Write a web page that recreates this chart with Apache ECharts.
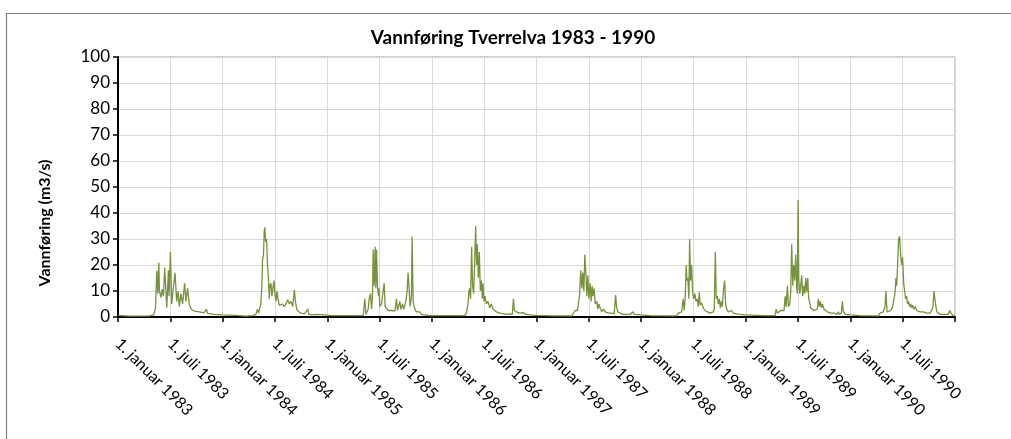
<!DOCTYPE html>
<html><head><meta charset="utf-8">
<script src="https://cdn.jsdelivr.net/npm/echarts@6/dist/echarts.min.js"></script>
<style>html,body{margin:0;padding:0;background:#fff}#c{width:1011px;height:439px}</style>
</head><body><div id="c"></div>
<script>
// Each pair: [month within the year (0 = 1. januar, 6 = 1. juli), flow in m3/s]
const flow1983 = [[0,0.6],[1.3,0.3],[3.6,0.4],[3.8,0.8],[4.1,0.8],[4.3,3.6],[4.45,17.8],[4.56,9],[4.68,21],[4.75,10],[4.94,7.5],[5.06,10.7],[5.21,8],[5.36,19],[5.48,18.5],[5.59,3.6],[5.7,11.3],[5.78,18],[5.86,8],[6.01,25],[6.16,5],[6.31,10],[6.54,17],[6.73,6],[6.88,10],[7.03,4],[7.22,9],[7.41,5],[7.64,13],[7.79,6],[7.98,11],[8.17,5],[8.4,3],[8.75,2.3],[9.32,2],[9.89,1.7],[10.08,1.5],[10.15,3],[10.27,1.4],[11.03,1],[11.98,0.8]];
const flow1984 = [[0.2,0.6],[1.5,0.6],[2.65,0.3],[3.42,0.5],[3.62,0.8],[3.81,1],[4.0,3],[4.12,1.5],[4.38,5],[4.5,12],[4.58,22],[4.69,24],[4.77,33],[4.85,34.5],[4.92,29],[5.04,30],[5.15,20],[5.27,14],[5.35,7],[5.42,12],[5.54,13],[5.65,8],[5.77,11],[5.88,14],[6.0,9],[6.12,6],[6.23,10],[6.35,7],[6.5,4.5],[6.69,4],[6.88,5],[7.08,4],[7.27,5],[7.46,6.6],[7.65,5],[7.85,6],[8.04,4],[8.23,10.5],[8.35,6],[8.5,3],[8.73,2],[9.0,1.5],[9.38,1.2],[9.58,1],[9.77,3],[9.88,1],[10.35,0.8],[10.73,1],[11.88,0.8]];
const flow1985 = [[0.3,0.5],[4.12,0.5],[4.24,1],[4.31,7],[4.43,1],[4.69,3],[4.81,7],[4.96,9],[5.08,3],[5.19,8],[5.27,26],[5.38,12],[5.5,27],[5.57,11],[5.65,26],[5.76,12],[5.88,8],[5.95,11],[6.03,4],[6.22,5],[6.41,4.5],[6.53,13],[6.64,4],[6.79,3.5],[6.98,2.5],[7.18,3],[7.37,2.5],[7.56,3],[7.75,2.3],[7.94,7],[8.05,2.5],[8.32,6],[8.44,3],[8.63,5],[8.78,3],[9.01,6],[9.16,10],[9.27,17],[9.39,11],[9.5,4],[9.66,8],[9.73,31],[9.85,6],[10.04,3],[10.23,2],[10.42,1.5],[10.61,2],[10.8,1],[11.18,0.8],[11.76,0.5]];
const flow1986 = [[0.88,0.5],[3.75,0.5],[3.95,1.5],[4.14,5],[4.25,10],[4.33,11],[4.44,7],[4.56,27],[4.67,12],[4.79,9],[4.9,20],[5.02,35],[5.13,20],[5.21,28],[5.33,15],[5.44,25],[5.56,10],[5.67,14],[5.79,7],[5.86,13],[5.98,6],[6.09,8],[6.25,5],[6.44,6],[6.63,3.5],[6.82,5],[7.01,3],[7.2,3.5],[7.39,2],[7.78,1.5],[8.54,1],[8.93,1.2],[9.23,1],[9.35,7],[9.46,2.5],[9.69,2],[10.08,1.5],[10.46,1.7],[10.84,1],[11.23,0.8],[11.99,0.6]];
const flow1987 = [[0,0.5],[2,0.4],[4.05,0.4],[4.24,1],[4.43,2.5],[4.54,3],[4.7,2.5],[4.93,8],[5.08,18],[5.2,11],[5.31,17],[5.43,10],[5.54,24],[5.66,17],[5.77,8],[5.89,16],[6.0,7],[6.15,13],[6.27,6],[6.38,12],[6.46,8],[6.61,11],[6.73,5],[6.92,6],[7.03,3],[7.15,5],[7.3,3.5],[7.49,2],[7.69,3],[7.88,2],[8.07,2.5],[8.26,1.5],[8.64,1.5],[8.91,1.2],[9.07,8.5],[9.18,4],[9.33,2],[9.6,1.5],[9.98,1],[10.74,1],[11.06,2],[11.21,1],[11.9,0.8]];
const flow1988 = [[1.0,0.5],[4.06,0.4],[4.25,1.5],[4.64,2],[4.83,7],[4.94,2.5],[5.06,7.5],[5.17,20],[5.25,14],[5.36,15],[5.48,7],[5.56,30],[5.67,14],[5.79,20],[5.9,10],[6.02,7],[6.17,9],[6.28,6],[6.44,7],[6.55,4],[6.67,9.5],[6.78,4.5],[6.93,5.5],[7.13,3.5],[7.32,2.5],[7.51,2],[7.89,1.5],[8.28,2],[8.39,3],[8.51,25],[8.62,7],[8.74,8],[8.85,5],[8.97,7],[9.08,3.5],[9.2,6],[9.31,4],[9.46,11],[9.58,14],[9.69,5],[9.81,3],[10.0,2],[10.19,1.5],[10.38,2.5],[10.57,1.5],[10.96,1.2],[11.34,1],[11.92,0.8]];
const flow1989 = [[0,0.8],[2,0.5],[3.37,0.5],[3.48,3],[3.63,1.5],[3.82,1.5],[4.02,2.5],[4.21,2],[4.4,2.5],[4.51,8],[4.63,4],[4.78,12],[4.89,4],[5.05,5],[5.16,10],[5.27,28],[5.39,12],[5.5,20],[5.62,14],[5.73,24],[5.85,11],[5.92,9],[6.0,45],[6.08,15],[6.19,9],[6.31,12],[6.42,16],[6.53,8],[6.65,12],[6.76,9],[6.88,15],[6.99,9.5],[7.11,15],[7.22,7],[7.34,5.5],[7.45,3.5],[7.64,3],[7.83,2.5],[8.02,3],[8.21,3],[8.33,7],[8.44,4],[8.56,6],[8.67,3.5],[8.79,5],[8.98,3],[9.17,2.5],[9.36,2],[9.74,1.5],[10.12,1.5],[10.43,1],[10.62,2],[10.73,1],[10.96,1.5],[11.08,6],[11.19,2],[11.46,1],[11.95,0.8]];
const flow1990 = [[1.1,0.5],[3.21,0.4],[3.4,1.5],[3.59,1.5],[3.78,2],[3.97,4],[4.08,10],[4.2,2],[4.39,2],[4.62,2.5],[4.85,4],[5.0,7],[5.11,9],[5.23,15],[5.31,12],[5.42,20],[5.53,30],[5.65,31],[5.76,24],[5.88,20],[5.99,23],[6.11,13],[6.22,10],[6.34,7],[6.45,8],[6.56,5],[6.68,6],[6.79,4],[6.91,5],[7.02,3.5],[7.14,4.5],[7.29,3],[7.44,4],[7.6,2.5],[7.79,3],[7.98,2],[8.36,2],[8.74,1.5],[9.12,1.5],[9.31,2.5],[9.47,4],[9.58,10],[9.69,10.5],[9.81,4],[9.92,2],[10.27,1],[10.84,1],[11.22,1],[11.41,2.5],[11.53,1.5],[11.79,0.5],[12,0.4]];

const years = [1983, 1984, 1985, 1986, 1987, 1988, 1989, 1990];
const yearFlows = [flow1983, flow1984, flow1985, flow1986, flow1987, flow1988, flow1989, flow1990];
const monthNames = ['januar', 'juli'];
const yTicks = [0, 10, 20, 30, 40, 50, 60, 70, 80, 90, 100];
const chartTitle = 'Vannføring Tverrelva 1983 - 1990';
const yTitle = 'Vannføring (m3/s)';

const startYear = years[0];
const seriesData = [];
years.forEach((y, i) => {
  yearFlows[i].forEach(p => seriesData.push([(y - startYear) * 12 + p[0], p[1]]));
});

const FONT = 'Lato, "Open Sans", sans-serif';
const chart = echarts.init(document.getElementById('c'), null, {renderer: 'canvas'});
chart.setOption({
  animation: false,
  backgroundColor: '#ffffff',
  grid: {left: 118, top: 57, width: 837, height: 260, show: true, borderColor: '#a0a0a0', borderWidth: 1, backgroundColor: 'transparent'},
  xAxis: {
    type: 'value', min: 0, max: 96, interval: 6,
    axisLine: {show: true, onZero: false, lineStyle: {color: '#000', width: 2}},
    axisTick: {show: true, length: 5, lineStyle: {color: '#000', width: 1.5}},
    splitLine: {show: true, lineStyle: {color: '#d9d9d9', width: 1}},
    axisLabel: {
      rotate: -45, margin: 24, fontSize: 16, color: '#000', fontFamily: FONT,
      showMaxLabel: true, showMinLabel: true,
      formatter: v => {
        if (v >= 96) return '';
        const y = startYear + Math.floor(v / 12);
        const m = monthNames[Math.round((v % 12) / 6)];
        return '1. ' + m + ' ' + y;
      }
    }
  },
  yAxis: {
    type: 'value', min: yTicks[0], max: yTicks[yTicks.length - 1], interval: yTicks[1] - yTicks[0],
    axisLine: {show: true, lineStyle: {color: '#000', width: 2}},
    axisTick: {show: true, length: 5, lineStyle: {color: '#000', width: 1.5}},
    splitLine: {show: true, lineStyle: {color: '#d9d9d9', width: 1}},
    axisLabel: {margin: 8, fontSize: 17, color: '#000', fontFamily: FONT}
  },
  graphic: [
    {type: 'rect', silent: true, z: -1, shape: {x: 6.5, y: 13.5, width: 1020, height: 440}, style: {fill: 'none', stroke: '#7f7f7f', lineWidth: 1.2}},
    {type: 'text', silent: true, x: 513, y: 38, style: {text: chartTitle, font: 'bold 19px ' + FONT, fill: '#000', textAlign: 'center', textVerticalAlign: 'middle'}},
    {type: 'text', silent: true, x: 45, y: 223, rotation: Math.PI / 2, style: {text: yTitle, font: 'bold 16px ' + FONT, fill: '#000', textAlign: 'center', textVerticalAlign: 'middle'}}
  ],
  series: [{
    type: 'line', data: seriesData, showSymbol: false, symbol: 'none',
    lineStyle: {color: '#76923c', width: 1.3}, z: 3
  }]
});
</script></body></html>
